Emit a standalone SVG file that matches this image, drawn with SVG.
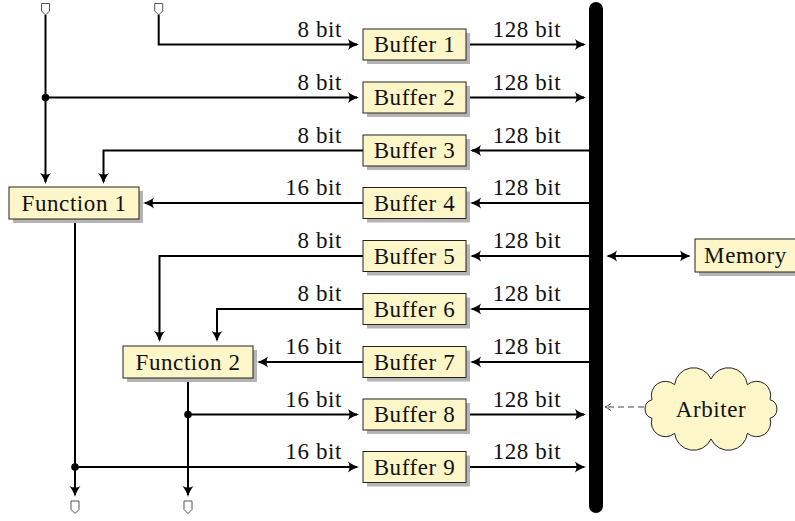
<svg xmlns="http://www.w3.org/2000/svg" width="795" height="521" viewBox="0 0 795 521">
<defs>
<marker id="arr" viewBox="-11 -7 14 14" refX="0" refY="0" markerWidth="14" markerHeight="14" markerUnits="userSpaceOnUse" orient="auto-start-reverse" overflow="visible">
<path d="M2,0 C-2,-1 -6,-3 -9,-5.5 C-7,-2 -7,2 -9,5.5 C-6,3 -2,1 2,0 Z" fill="#000"/>
</marker>
<marker id="open" viewBox="-8 -5 10 10" refX="0" refY="0" markerWidth="10" markerHeight="10" markerUnits="userSpaceOnUse" orient="auto" overflow="visible">
<path d="M-6,-3.5 Q-2,-0.6 0,0 Q-2,0.6 -6,3.5" fill="none" stroke="#444" stroke-width="1"/>
</marker>
</defs>

<g id="bus"><line x1="596" y1="9" x2="596" y2="506" stroke="#000" stroke-width="14" stroke-linecap="round"/></g>

<g id="pins" fill="#fff" stroke="#555" stroke-width="1">
<polygon points="41.5,3.5 49.5,3.5 49.5,11 45.5,15 41.5,11"/>
<polygon points="154.7,3.5 162.7,3.5 162.7,11 158.7,15 154.7,11"/>
<polygon points="71,501 79,501 79,509.5 75,513.5 71,509.5"/>
<polygon points="184,501 192,501 192,509.5 188,513.5 184,509.5"/>
</g>

<g id="connectors">
<g fill="none" stroke="#000" stroke-width="2" marker-end="url(#arr)">
<path d="M158.7,15 V44.5 H357"/>
<path d="M45.5,15 V182"/>
<path d="M45.5,97.5 H357"/>
<path d="M363,150.5 H103.5 V182"/>
<path d="M363,203 H145"/>
<path d="M75,219 V495"/>
<path d="M363,256 H159.5 V340"/>
<path d="M363,309 H217 V340"/>
<path d="M363,362 H259"/>
<path d="M188,378 V495"/>
<path d="M188,414.5 H357"/>
<path d="M75,467 H357"/>
<path d="M466,44.5 H584"/>
<path d="M466,97.5 H584"/>
<path d="M589,150.5 H472"/>
<path d="M589,203 H472"/>
<path d="M589,256 H472"/>
<path d="M589,309 H472"/>
<path d="M589,362 H472"/>
<path d="M466,414.5 H584"/>
<path d="M466,467 H584"/>
<path d="M608,256 H689" marker-start="url(#arr)"/>
</g>
<circle cx="45.5" cy="97.5" r="3.8"/>
<circle cx="188" cy="414.5" r="3.8"/>
<circle cx="75" cy="467" r="3.8"/>
<path d="M644,407 H605" fill="none" stroke="#444" stroke-width="1" stroke-dasharray="6,4" marker-end="url(#open)"/>
</g>

<g id="labels" fill="#111" font-size="23" letter-spacing="0.6">
<g text-anchor="end">
<text font-family="Liberation Serif" style="font-family:'Liberation Serif',serif" x="342" y="36.5">8 bit</text>
<text font-family="Liberation Serif" style="font-family:'Liberation Serif',serif" x="342" y="89.5">8 bit</text>
<text font-family="Liberation Serif" style="font-family:'Liberation Serif',serif" x="342" y="142.5">8 bit</text>
<text font-family="Liberation Serif" style="font-family:'Liberation Serif',serif" x="342" y="195">16 bit</text>
<text font-family="Liberation Serif" style="font-family:'Liberation Serif',serif" x="342" y="248">8 bit</text>
<text font-family="Liberation Serif" style="font-family:'Liberation Serif',serif" x="342" y="301">8 bit</text>
<text font-family="Liberation Serif" style="font-family:'Liberation Serif',serif" x="342" y="354">16 bit</text>
<text font-family="Liberation Serif" style="font-family:'Liberation Serif',serif" x="342" y="406.5">16 bit</text>
<text font-family="Liberation Serif" style="font-family:'Liberation Serif',serif" x="342" y="459">16 bit</text>
</g>
<g text-anchor="middle">
<text font-family="Liberation Serif" style="font-family:'Liberation Serif',serif" x="527" y="36.5">128 bit</text>
<text font-family="Liberation Serif" style="font-family:'Liberation Serif',serif" x="527" y="89.5">128 bit</text>
<text font-family="Liberation Serif" style="font-family:'Liberation Serif',serif" x="527" y="142.5">128 bit</text>
<text font-family="Liberation Serif" style="font-family:'Liberation Serif',serif" x="527" y="195">128 bit</text>
<text font-family="Liberation Serif" style="font-family:'Liberation Serif',serif" x="527" y="248">128 bit</text>
<text font-family="Liberation Serif" style="font-family:'Liberation Serif',serif" x="527" y="301">128 bit</text>
<text font-family="Liberation Serif" style="font-family:'Liberation Serif',serif" x="527" y="354">128 bit</text>
<text font-family="Liberation Serif" style="font-family:'Liberation Serif',serif" x="527" y="406.5">128 bit</text>
<text font-family="Liberation Serif" style="font-family:'Liberation Serif',serif" x="527" y="459">128 bit</text>
</g>
</g>

<g id="nodes" font-size="23" letter-spacing="0.6" text-anchor="middle">
<g id="buffer1"><rect fill="#b4b4b4" x="367" y="33" width="103" height="31"/><rect fill="#fdf6c9" stroke="#222" x="363" y="29" width="103" height="31"/><text fill="#111" font-family="Liberation Serif" style="font-family:'Liberation Serif',serif" x="414.5" y="52">Buffer 1</text></g>
<g id="buffer2"><rect fill="#b4b4b4" x="367" y="86" width="103" height="31"/><rect fill="#fdf6c9" stroke="#222" x="363" y="82" width="103" height="31"/><text fill="#111" font-family="Liberation Serif" style="font-family:'Liberation Serif',serif" x="414.5" y="105">Buffer 2</text></g>
<g id="buffer3"><rect fill="#b4b4b4" x="367" y="139" width="103" height="31"/><rect fill="#fdf6c9" stroke="#222" x="363" y="135" width="103" height="31"/><text fill="#111" font-family="Liberation Serif" style="font-family:'Liberation Serif',serif" x="414.5" y="158">Buffer 3</text></g>
<g id="buffer4"><rect fill="#b4b4b4" x="367" y="191.5" width="103" height="31"/><rect fill="#fdf6c9" stroke="#222" x="363" y="187.5" width="103" height="31"/><text fill="#111" font-family="Liberation Serif" style="font-family:'Liberation Serif',serif" x="414.5" y="210.5">Buffer 4</text></g>
<g id="buffer5"><rect fill="#b4b4b4" x="367" y="244.5" width="103" height="31"/><rect fill="#fdf6c9" stroke="#222" x="363" y="240.5" width="103" height="31"/><text fill="#111" font-family="Liberation Serif" style="font-family:'Liberation Serif',serif" x="414.5" y="263.5">Buffer 5</text></g>
<g id="buffer6"><rect fill="#b4b4b4" x="367" y="297.5" width="103" height="31"/><rect fill="#fdf6c9" stroke="#222" x="363" y="293.5" width="103" height="31"/><text fill="#111" font-family="Liberation Serif" style="font-family:'Liberation Serif',serif" x="414.5" y="316.5">Buffer 6</text></g>
<g id="buffer7"><rect fill="#b4b4b4" x="367" y="350.5" width="103" height="31"/><rect fill="#fdf6c9" stroke="#222" x="363" y="346.5" width="103" height="31"/><text fill="#111" font-family="Liberation Serif" style="font-family:'Liberation Serif',serif" x="414.5" y="369.5">Buffer 7</text></g>
<g id="buffer8"><rect fill="#b4b4b4" x="367" y="403" width="103" height="31"/><rect fill="#fdf6c9" stroke="#222" x="363" y="399" width="103" height="31"/><text fill="#111" font-family="Liberation Serif" style="font-family:'Liberation Serif',serif" x="414.5" y="422">Buffer 8</text></g>
<g id="buffer9"><rect fill="#b4b4b4" x="367" y="455.5" width="103" height="31"/><rect fill="#fdf6c9" stroke="#222" x="363" y="451.5" width="103" height="31"/><text fill="#111" font-family="Liberation Serif" style="font-family:'Liberation Serif',serif" x="414.5" y="474.5">Buffer 9</text></g>
<g id="function1"><rect fill="#b4b4b4" x="13" y="191" width="130" height="32"/><rect fill="#fdf6c9" stroke="#222" x="9" y="187" width="130" height="32"/><text fill="#111" font-family="Liberation Serif" style="font-family:'Liberation Serif',serif" x="74" y="210.5">Function 1</text></g>
<g id="function2"><rect fill="#b4b4b4" x="127" y="350" width="130" height="32"/><rect fill="#fdf6c9" stroke="#222" x="123" y="346" width="130" height="32"/><text fill="#111" font-family="Liberation Serif" style="font-family:'Liberation Serif',serif" x="188" y="369.5">Function 2</text></g>
<g id="memory"><rect fill="#b4b4b4" x="699" y="243" width="102" height="33"/><rect fill="#fdf6c9" stroke="#222" x="695" y="239" width="102" height="33"/><text fill="#111" font-family="Liberation Serif" style="font-family:'Liberation Serif',serif" x="745.5" y="263">Memory</text></g>
<g id="arbiter">
<path fill="#fdf6c9" stroke="#222" d="M770,399.7 A9.7,9.7 0 0 1 770,418.3 A14.1,14.1 0 0 1 747.4,433.3 A19.1,19.1 0 0 1 711,439 A19.1,19.1 0 0 1 674.6,433.3 A14.1,14.1 0 0 1 652,418.3 A9.7,9.7 0 0 1 652,399.7 A14.1,14.1 0 0 1 674.6,384.7 A19.1,19.1 0 0 1 711,379 A19.1,19.1 0 0 1 747.4,384.7 A14.1,14.1 0 0 1 770,399.7 Z"/>
<text fill="#111" font-family="Liberation Serif" style="font-family:'Liberation Serif',serif" x="711" y="416.5">Arbiter</text>
</g>
</g>
</svg>
